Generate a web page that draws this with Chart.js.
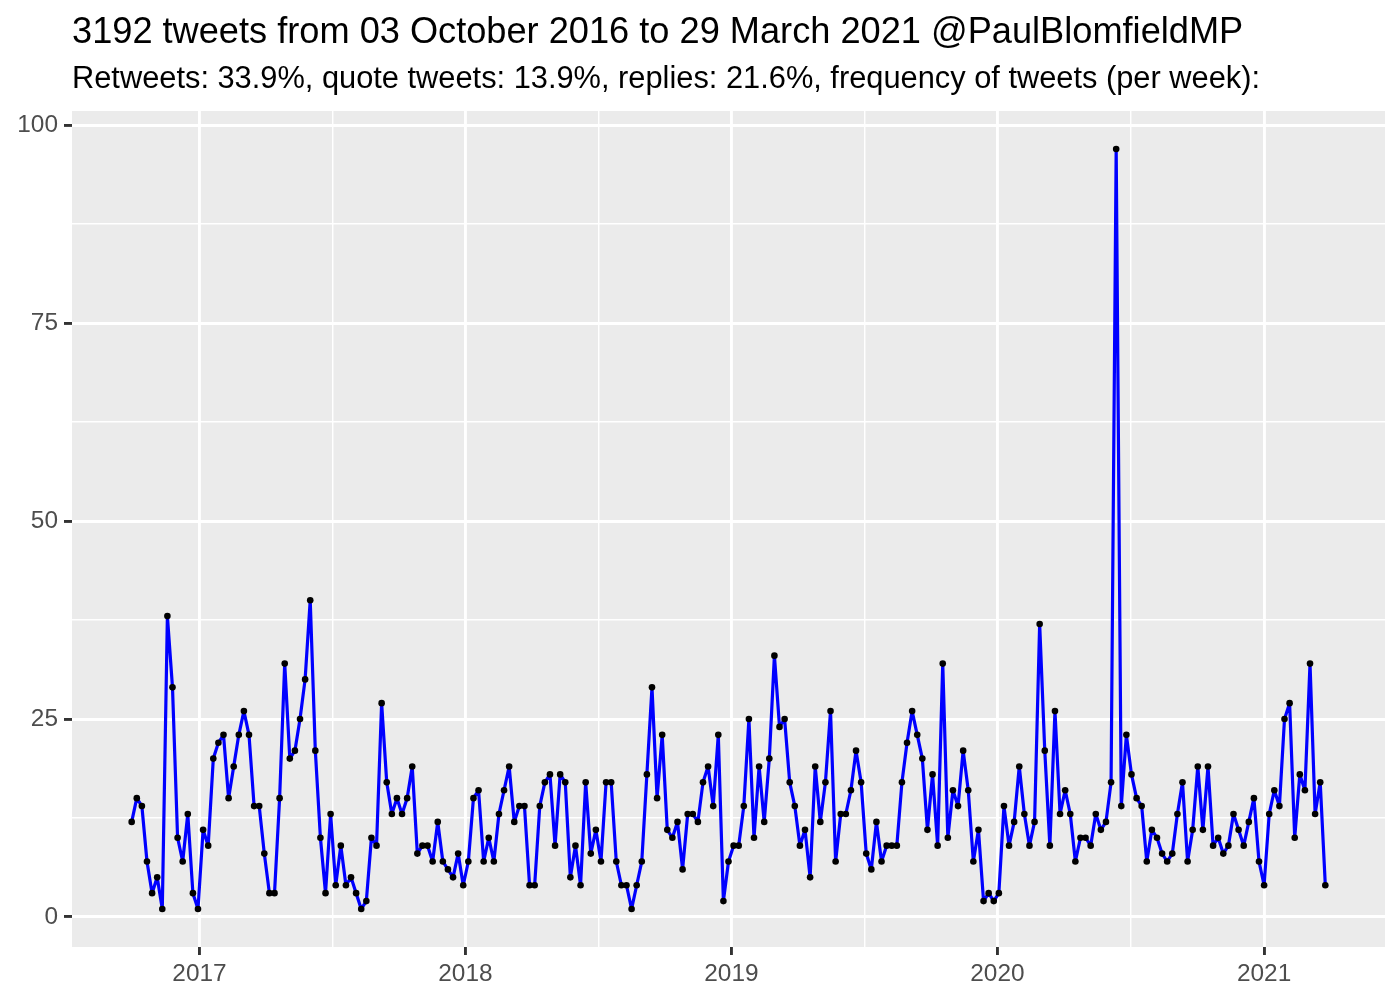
<!DOCTYPE html>
<html>
<head>
<meta charset="utf-8">
<script src="https://cdn.jsdelivr.net/npm/chart.js@4.4.1/dist/chart.umd.min.js"></script>
<style>
  body { margin: 0; background: #fff; }
  canvas { display: block; }
</style>
</head>
<body>
<canvas id="chart_tweets" width="1400" height="1000"></canvas>
<script>
let titulo = '3192 tweets from 03 October 2016 to 29 March 2021 @PaulBlomfieldMP';
let subtitulo = 'Retweets: 33.9%, quote tweets: 13.9%, replies: 21.6%, frequency of tweets (per week):';

// one bin per week, starting here
let primeraSemana = '2016-09-30';
let tweetsPorSemana = [
    12, 15, 14, 7, 3, 5, 1, 38, 29, 10, 7, 13, 3, 1, 11, 9, 20, 22, 23, 15, 19, 23, 26, 23, 14, 14, 8, 3, 3, 15, 32, 20, 21, 25, 30, 40, 21, 10, 3, 13, 4, 9,
    4, 5, 3, 1, 2, 10, 9, 27, 17, 13, 15, 13, 15, 19, 8, 9, 9, 7, 12, 7, 6, 5, 8, 4, 7, 15, 16, 7, 10, 7, 13, 16, 19, 12, 14, 14, 4, 4, 14, 17, 18,
    9, 18, 17, 5, 9, 4, 17, 8, 11, 7, 17, 17, 7, 4, 4, 1, 4, 7, 18, 29, 15, 23, 11, 10, 12, 6, 13, 13, 12, 17, 19, 14, 23, 2, 7, 9, 9, 14, 25, 10, 19,
    12, 20, 33, 24, 25, 17, 14, 9, 11, 5, 19, 12, 17, 26, 7, 13, 13, 16, 21, 17, 8, 6, 12, 7, 9, 9, 9, 17, 22, 26, 23, 20, 11, 18, 9, 32, 10, 16, 14, 21, 16,
    7, 11, 2, 3, 2, 3, 14, 9, 12, 19, 13, 9, 12, 37, 21, 9, 26, 13, 16, 13, 7, 10, 10, 9, 13, 11, 12, 17, 97, 14, 23, 18, 15, 14, 7, 11, 10, 8, 7, 8, 13, 17,
    7, 11, 19, 11, 19, 9, 10, 8, 9, 13, 11, 9, 12, 15, 7, 4, 13, 16, 14, 25, 27, 10, 18, 16, 32, 13, 17, 4
];
let anios = [2017, 2018, 2019, 2020, 2021];
let ticksY = [0, 25, 50, 75, 100];

let DIA = 24 * 3600 * 1000;
let fuente = '"Liberation Sans", Arial, Helvetica, sans-serif';

let inicio = Date.parse(primeraSemana);
let puntos = tweetsPorSemana.map((v, i) => ({x: inicio + i * 7 * DIA, y: v}));

// ggplot style 5% expansion
let xMin = puntos[0].x, xMax = puntos[puntos.length - 1].x;
let yMin = Math.min(...tweetsPorSemana), yMax = Math.max(...tweetsPorSemana);
let xPad = (xMax - xMin) * 0.05, yPad = (yMax - yMin) * 0.05;

let majorX = anios.map(a => Date.UTC(a, 0, 1));
let minorX = [];
for (let a = anios[0] - 1; a <= anios[anios.length - 1]; a++) {
    minorX.push((Date.UTC(a, 0, 1) + Date.UTC(a + 1, 0, 1)) / 2);
}
let todosX = majorX.concat(minorX)
    .filter(v => v >= xMin - xPad && v <= xMax + xPad)
    .sort((a, b) => a - b);

let todosY = [];
ticksY.forEach((v, i) => {
    todosY.push(v);
    if (i < ticksY.length - 1) todosY.push((v + ticksY[i + 1]) / 2);
});

let esMayorX = v => majorX.includes(v);
let esMayorY = v => ticksY.includes(v);

let panel = {
    id: 'panel',
    beforeDraw(chart) {
        let ctx = chart.ctx, a = chart.chartArea;
        ctx.save();
        ctx.fillStyle = '#FFFFFF';
        ctx.fillRect(0, 0, chart.width, chart.height);
        ctx.fillStyle = '#EBEBEB';
        ctx.fillRect(a.left, a.top, a.right - a.left, a.bottom - a.top);
        ctx.fillStyle = '#000000';
        ctx.textAlign = 'left';
        ctx.textBaseline = 'alphabetic';
        ctx.font = '36.2px ' + fuente;
        ctx.fillText(titulo, a.left, 43);
        ctx.font = '30.8px ' + fuente;
        ctx.fillText(subtitulo, a.left, 88);
        ctx.restore();
    }
};

let ctx = document.getElementById('chart_tweets');

let tweets = new Chart(ctx, {
    type: 'line',
    data: {
        datasets: [{
            label: 'tweets',
            data: puntos,
            borderColor: '#0000FF',
            borderWidth: 3.2,
            borderJoinStyle: 'round',
            borderCapStyle: 'round',
            tension: 0,
            fill: false,
            pointRadius: 3.3,
            pointBackgroundColor: '#000000',
            pointBorderColor: '#000000',
            pointBorderWidth: 0
        }]
    },
    options: {
        responsive: false,
        animation: false,
        layout: {padding: {top: 111, right: 15, bottom: 0, left: 0}},
        plugins: {
            legend: false,
            title: {display: false},
            tooltip: {enabled: false}
        },
        scales: {
            x: {
                type: 'linear',
                bounds: 'data',
                min: xMin - xPad,
                max: xMax + xPad,
                afterBuildTicks: s => { s.ticks = todosX.map(v => ({value: v})); },
                afterFit: s => { s.height = 53; },
                border: {display: false},
                grid: {
                    color: '#FFFFFF',
                    lineWidth: c => esMayorX(c.tick.value) ? 2.9 : 1.45,
                    tickLength: 8,
                    tickWidth: 2.9,
                    tickColor: c => esMayorX(c.tick.value) ? '#333333' : 'rgba(0,0,0,0)'
                },
                ticks: {
                    autoSkip: false,
                    maxRotation: 0,
                    padding: 5,
                    color: '#4D4D4D',
                    font: {family: fuente, size: 24.4},
                    callback: v => esMayorX(v) ? String(new Date(v).getUTCFullYear()) : ''
                }
            },
            y: {
                type: 'linear',
                bounds: 'data',
                min: yMin - yPad,
                max: yMax + yPad,
                afterBuildTicks: s => { s.ticks = todosY.map(v => ({value: v})); },
                afterFit: s => { s.width = 72; },
                border: {display: false},
                grid: {
                    color: '#FFFFFF',
                    lineWidth: c => esMayorY(c.tick.value) ? 2.9 : 1.45,
                    tickLength: 8,
                    tickWidth: 2.9,
                    tickColor: c => esMayorY(c.tick.value) ? '#333333' : 'rgba(0,0,0,0)'
                },
                ticks: {
                    autoSkip: false,
                    padding: 6,
                    color: '#4D4D4D',
                    font: {family: fuente, size: 24.4},
                    callback: v => esMayorY(v) ? String(v) : ''
                }
            }
        }
    },
    plugins: [panel]
});
</script>
</body>
</html>
